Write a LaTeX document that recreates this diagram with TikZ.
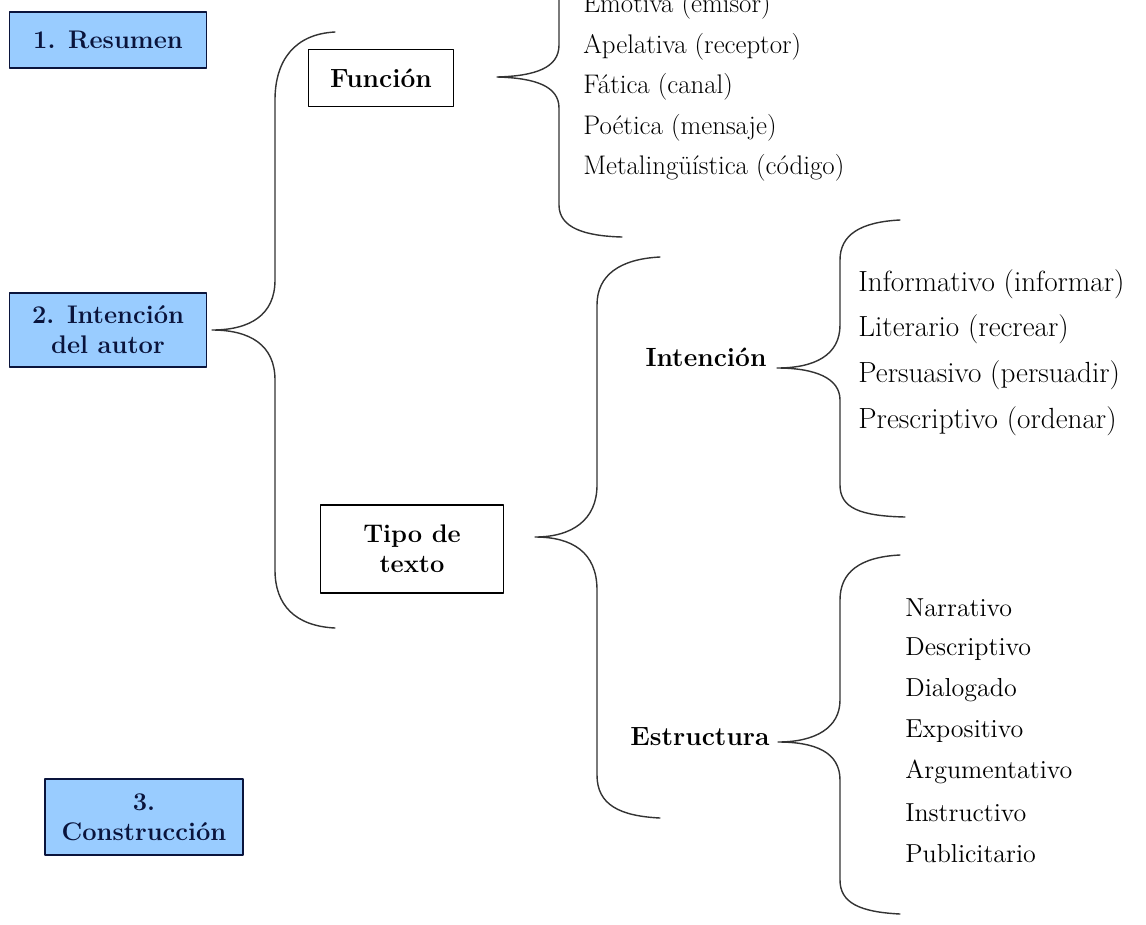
\documentclass[tikz,border=0pt]{standalone}
\definecolor{azulcaja}{RGB}{153,204,255}
\definecolor{marino}{RGB}{10,20,60}
\begin{document}
\begin{tikzpicture}[x=0.02cm,y=-0.02cm,line join=round,line cap=round,font=\fontsize{15}{18}\selectfont]
	\tikzset{
		caja/.style={draw=marino,fill=azulcaja,line width=0.8pt,minimum width=3.94cm,minimum height=1.12cm,align=center,font=\fontsize{14.5}{17}\selectfont\bfseries,text=marino},
		marco/.style={draw,line width=0.8pt,minimum width=2.9cm,minimum height=1.14cm,align=center,font=\fontsize{15}{18}\selectfont\bfseries},
		rotulo/.style={font=\fontsize{15}{18}\selectfont\bfseries},
		item/.style={anchor=west,inner sep=0pt},
		llave/.style={line width=0.8pt,black!80}
	}
	\useasboundingbox (0,0) rectangle (1146,924);
	\clip (0,0) rectangle (1146,924);
	% cajas de la izquierda
	\node[caja] (resumen) at (108,40) {1. Resumen};
	\node[caja,minimum height=1.48cm] (autor) at (108,330) {2. Intenci\'on\\del autor};
	\node[caja,minimum width=3.96cm,minimum height=1.52cm] (construccion) at (144,817) {3.\\Construcci\'on};
	\node[marco] (funcion) at (381,78) {Funci\'on};
	\node[marco,minimum width=3.66cm,minimum height=1.76cm,font=\fontsize{14.5}{17}\selectfont\bfseries] (tipo) at (412,549) {Tipo de\\texto};
	\node[rotulo] (intencion) at (706,357) {Intenci\'on};
	\node[rotulo] (estructura) at (700,737) {Estructura};
	% listas
	\foreach \t [count=\i] in {Emotiva (emisor),Apelativa (receptor),F\'atica (canal),Po\'etica (mensaje),Metaling\"u\'istica (c\'odigo)}
		\node[item,font=\fontsize{15.3}{18}\selectfont] (fun\i) at (583,6+40.5*\i-40.5) {\t};
	\foreach \t [count=\i] in {Informativo (informar),Literario (recrear),Persuasivo (persuadir),Prescriptivo (ordenar)}
		\node[item,font=\fontsize{16.6}{19}\selectfont] (int\i) at (858,284+45.7*\i-45.7) {\t};
	\foreach \t [count=\i] in {Narrativo,Descriptivo,Dialogado,Expositivo,Argumentativo,Instructivo,Publicitario}
		\node[item,font=\fontsize{14.8}{18}\selectfont] (est\i) at (905,608+41*\i-41) {\t};
	% llaves
	\draw[llave] (335,32) .. controls (295,34) and (275,60) .. (275,100)
		-- (275,280) .. controls (275,315) and (250,330) .. (212,330)
		.. controls (250,330) and (275,345) .. (275,380)
		-- (275,570) .. controls (275,605) and (295,626) .. (335,628);
	\draw[llave] (622,-80) .. controls (585,-78) and (559,-65) .. (559,-40)
		-- (559,45) .. controls (559,68) and (535,76) .. (497,77)
		.. controls (535,78) and (559,86) .. (559,108)
		-- (559,205) .. controls (559,228) and (585,236) .. (622,237);
	\draw[llave] (660,257) .. controls (620,259) and (597,275) .. (597,305)
		-- (597,485) .. controls (597,520) and (572,537) .. (535,537)
		.. controls (572,537) and (597,552) .. (597,590)
		-- (597,775) .. controls (597,805) and (620,816) .. (660,818);
	\draw[llave] (900,220) .. controls (860,222) and (840,235) .. (840,260)
		-- (840,325) .. controls (840,355) and (815,368) .. (777,368)
		.. controls (815,368) and (840,378) .. (840,400)
		-- (840,485) .. controls (840,508) and (860,516) .. (905,517);
	\draw[llave] (900,555) .. controls (860,557) and (840,572) .. (840,600)
		-- (840,700) .. controls (840,728) and (815,742) .. (778,742)
		.. controls (815,742) and (840,752) .. (840,780)
		-- (840,880) .. controls (840,903) and (860,912) .. (900,914);
\end{tikzpicture}
\end{document}
